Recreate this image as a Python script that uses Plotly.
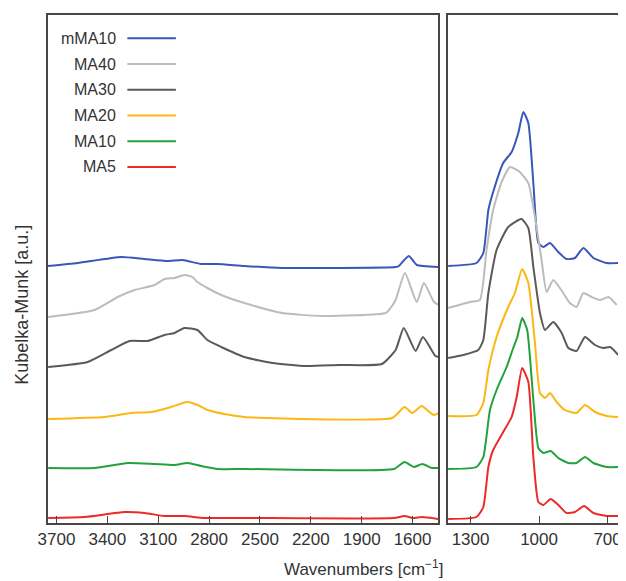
import plotly.graph_objects as go

# ---------------- data (Kubelka-Munk, arbitrary units, stacked) ----------------
series_names = ["mMA10", "MA40", "MA30", "MA20", "MA10", "MA5"]
series_colors = ["#3b55b8", "#bcbcbc", "#5f5858", "#fbb713", "#22a23b", "#ec2a2a"]

mMA10_wn = [3750, 3575, 3318, 3181, 3045, 2957, 2847, 2751, 2592, 2368, 1700, 1680, 1649, 1622, 1600, 1575, 1446,
            1398, 1274, 1244, 1222, 1201, 1157, 1120, 1091, 1069, 1047, 1025, 1003, 981, 952, 916, 880, 843, 806, 762, 704, 653]
mMA10_km = [257, 260, 266, 264, 262, 263, 259, 259, 257, 255, 256, 257, 263, 267, 263, 258, 256,
            257, 260, 270, 313, 331, 360, 371, 390, 411, 400, 340, 280, 276, 280, 271, 264, 265, 275, 265, 260, 260]

MA40_wn = [3749, 3475, 3339, 3239, 3122, 3063, 3004, 2945, 2898, 2869, 2810, 2728, 2592, 2369, 2134, 1759, 1730, 1700, 1645, 1575, 1533, 1474, 1446,
           1398, 1303, 1259, 1230, 1201, 1164, 1127, 1084, 1047, 1018, 989, 967, 938, 894, 865, 836, 806, 770, 733, 696, 660]
MA40_km = [206, 213, 226, 233, 238, 244, 245, 248, 246, 241, 235, 228, 220, 210, 207, 210, 215, 223, 250, 221, 240, 221, 218,
           215, 221, 223, 273, 313, 341, 356, 351, 340, 306, 263, 231, 243, 230, 220, 216, 230, 226, 223, 226, 218]

MA30_wn = [3749, 3516, 3377, 3269, 3163, 3063, 3004, 2945, 2869, 2810, 2728, 2592, 2427, 2229, 2034, 1781, 1700, 1652, 1582, 1539, 1465, 1446,
           1398, 1332, 1266, 1244, 1222, 1186, 1135, 1077, 1047, 1025, 996, 974, 938, 901, 872, 836, 799, 755, 719, 689, 653]
MA30_km = [156, 161, 173, 182, 182, 188, 190, 195, 193, 183, 176, 166, 160, 157, 158, 159, 173, 195, 172, 186, 167, 166,
           165, 168, 173, 183, 230, 273, 296, 304, 295, 256, 210, 193, 201, 190, 175, 172, 186, 178, 175, 176, 168]

MA20_wn = [3749, 3416, 3259, 3141, 3024, 2929, 2867, 2808, 2710, 2592, 2229, 1720, 1647, 1602, 1547, 1475, 1446,
           1398, 1274, 1244, 1222, 1186, 1135, 1106, 1074, 1047, 1018, 996, 974, 952, 923, 887, 836, 799, 755, 704, 653]
MA20_km = [104, 106, 110, 111, 116, 121, 118, 113, 109, 106, 104, 105, 116, 110, 117, 108, 110,
           107, 108, 120, 153, 186, 216, 230, 254, 240, 180, 130, 125, 130, 121, 113, 110, 118, 111, 107, 106]

MA10_wn = [3749, 3475, 3279, 3122, 3004, 2926, 2847, 2750, 2592, 1710, 1647, 1592, 1543, 1485, 1446,
           1398, 1274, 1244, 1215, 1186, 1142, 1113, 1095, 1074, 1052, 1025, 1003, 981, 949, 916, 872, 836, 799, 762, 704, 653]
MA10_km = [55, 55, 60, 59, 58, 60, 57, 54, 54, 54, 61, 56, 59, 55, 55,
           54, 56, 66, 113, 133, 156, 175, 186, 205, 193, 123, 75, 70, 72, 65, 60, 60, 66, 60, 56, 56]

MA5_wn = [3749, 3534, 3298, 3181, 3063, 2945, 2828, 2592, 1710, 1647, 1600, 1543, 1446,
          1398, 1274, 1244, 1222, 1201, 1157, 1120, 1098, 1074, 1047, 1025, 1003, 981, 949, 916, 880, 843, 803, 762, 704, 653]
MA5_km = [5, 6, 11, 10, 7, 7, 5, 5, 5, 7, 5, 6, 4,
          4, 6, 16, 56, 73, 91, 106, 126, 155, 141, 66, 21, 18, 24, 18, 10, 11, 17, 10, 7, 7]

left_ticks = [3700, 3400, 3100, 2800, 2500, 2200, 1900, 1600]
right_ticks = [1300, 1000, 700]

series_wn = [mMA10_wn, MA40_wn, MA30_wn, MA20_wn, MA10_wn, MA5_wn]
series_km = [mMA10_km, MA40_km, MA30_km, MA20_km, MA10_km, MA5_km]

# ---------------- figure ----------------
FONT = "Liberation Sans, Arial, sans-serif"
AX = "#4a4646"
TXT = "#333333"
fig = go.Figure()

for name, color, wn, km in zip(series_names, series_colors, series_wn, series_km):
    lx = [w for w in wn if w > 1420]
    ly = [k for w, k in zip(wn, km) if w > 1420]
    rx = [w for w in wn if w <= 1420]
    ry = [k for w, k in zip(wn, km) if w <= 1420]
    fig.add_trace(go.Scatter(x=lx, y=ly, mode="lines", name=name, showlegend=False,
                             line=dict(color=color, width=2, shape="spline", smoothing=0.5),
                             xaxis="x", yaxis="y"))
    fig.add_trace(go.Scatter(x=rx, y=ry, mode="lines", name=name, showlegend=False,
                             line=dict(color=color, width=2, shape="spline", smoothing=0.5),
                             xaxis="x2", yaxis="y2"))

axis_common = dict(showgrid=False, zeroline=False, showline=True, linecolor=AX, linewidth=1.5,
                   mirror=True, ticks="inside", ticklen=7, tickwidth=1, tickcolor=AX,
                   tickfont=dict(family=FONT, size=17, color=TXT))

# page body has an 8px default margin, so the figure is sized 8px smaller
fig.update_layout(
    width=618, height=573,
    margin=dict(l=40, r=4, t=7, b=58),
    paper_bgcolor="white", plot_bgcolor="white",
    xaxis=dict(domain=[0, 0.683], range=[3750, 1450], tickvals=left_ticks, anchor="y", **axis_common),
    xaxis2=dict(domain=[0.700, 1.0], range=[1400, 650], tickvals=right_ticks, anchor="y2", **axis_common),
    yaxis=dict(domain=[0, 1], range=[0, 508], showticklabels=False, showgrid=False, zeroline=False,
               showline=True, linecolor=AX, linewidth=1.5, mirror=True, ticks="", anchor="x"),
    yaxis2=dict(domain=[0, 1], range=[0, 508], showticklabels=False, showgrid=False, zeroline=False,
                showline=True, linecolor=AX, linewidth=1.5, mirror=True, ticks="", anchor="x2"),
    showlegend=False,
)

# axis titles
fig.add_annotation(text="Wavenumbers [cm<sup>\u22121</sup>]", xref="paper", yref="paper",
                   x=0.552, y=-0.088, xanchor="center", yanchor="middle", showarrow=False,
                   font=dict(family=FONT, size=17, color=TXT))
fig.add_annotation(text="Kubelka-Munk [a.u.]", xref="paper", yref="paper", textangle=-90,
                   x=-0.047, y=0.43, xanchor="center", yanchor="middle", showarrow=False,
                   font=dict(family=FONT, size=18, color=TXT))

# custom legend: label on the left, line sample on the right
for i, (name, color) in enumerate(zip(series_names, series_colors)):
    yp = 0.954 - i * 0.0506
    fig.add_annotation(text=name, xref="paper", yref="paper", x=0.1225, y=yp,
                       xanchor="right", yanchor="middle", showarrow=False,
                       font=dict(family=FONT, size=16, color=TXT))
    fig.add_shape(type="line", xref="paper", yref="paper", x0=0.139, x1=0.224, y0=yp, y1=yp,
                  line=dict(color=color, width=2))

fig.write_html("out.html")
